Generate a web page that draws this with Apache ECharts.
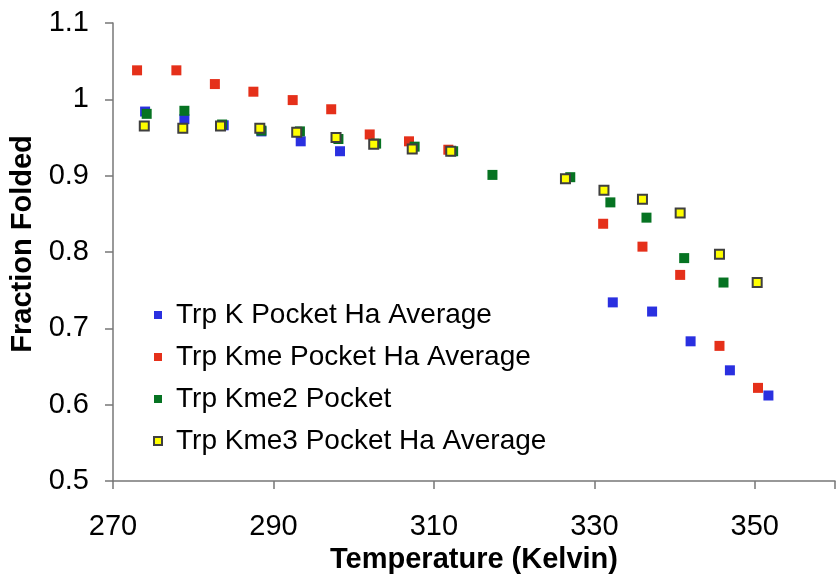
<!DOCTYPE html>
<html>

<head>
	<meta charset="utf-8" />
	<title>Fraction Folded</title>
	<script src="https://cdn.jsdelivr.net/npm/echarts@6/dist/echarts.min.js"></script>
	<style>
		body { margin: 0; background: #fff; }
		#main { width: 836px; height: 576px; }
	</style>
</head>

<body>
	<div id="main"></div>
	<script type="text/javascript">
		// temperatures (Kelvin) and fraction folded
		var kTemp = [274.0, 278.9, 283.8, 288.5, 293.4, 298.3, 332.3, 337.2, 342.0, 346.9, 351.7];
		var kFrac = [0.984, 0.974, 0.966, 0.958, 0.945, 0.932, 0.734, 0.722, 0.683, 0.645, 0.612];

		var kmeTemp = [273.0, 277.9, 282.7, 287.5, 292.4, 297.2, 302.0, 306.9, 311.8, 331.1, 336.0, 340.7, 345.6, 350.4];
		var kmeFrac = [1.038, 1.038, 1.020, 1.010, 0.999, 0.987, 0.954, 0.945, 0.934, 0.837, 0.807, 0.770, 0.677, 0.622];

		var kme2Temp = [274.2, 278.9, 283.6, 288.5, 293.3, 298.1, 302.8, 307.6, 312.4, 317.3, 327.0, 332.0, 336.5, 341.2, 346.1];
		var kme2Frac = [0.981, 0.985, 0.967, 0.959, 0.958, 0.948, 0.942, 0.938, 0.932, 0.901, 0.898, 0.865, 0.845, 0.792, 0.760];

		var kme3Temp = [273.9, 278.7, 283.4, 288.3, 292.9, 297.8, 302.5, 307.3, 312.1, 326.4, 331.2, 336.0, 340.7, 345.6, 350.3];
		var kme3Frac = [0.965, 0.962, 0.965, 0.962, 0.957, 0.950, 0.941, 0.935, 0.932, 0.896, 0.881, 0.869, 0.851, 0.797, 0.760];

		var seriesNames = ['Trp K Pocket Ha Average', 'Trp Kme Pocket Ha Average', 'Trp Kme2 Pocket', 'Trp Kme3 Pocket Ha Average'];

		function pairs(xs, ys) {
			var out = [];
			for (var i = 0; i < xs.length; i++) {
				out.push([xs[i], ys[i]]);
			}
			return out;
		}

		var font = 'Liberation Sans, Arial, Helvetica, sans-serif';
		var myChart = echarts.init(document.getElementById('main'));

		var option = {
			animation: false,
			backgroundColor: '#fff',
			grid: { left: 113, right: 1, top: 23, bottom: 95, containLabel: false, outerBoundsMode: 'none' },
			legend: {
				orient: 'vertical',
				left: 148,
				top: 296,
				itemWidth: 8,
				itemHeight: 8,
				itemGap: 14,
				icon: 'rect',
				textStyle: { fontFamily: font, fontSize: 28, color: '#000', padding: [0, 0, 0, 9] },
				data: seriesNames
			},
			xAxis: {
				type: 'value',
				min: 270,
				max: 360,
				interval: 20,
				name: 'Temperature (Kelvin)',
				nameLocation: 'middle',
				nameGap: 58,
				nameTextStyle: { fontFamily: font, fontSize: 29, fontWeight: 'bold', color: '#000' },
				splitLine: { show: false },
				axisLine: { lineStyle: { color: '#777', width: 1.5 } },
				axisTick: { length: 8, lineStyle: { color: '#777', width: 1.5 } },
				axisLabel: {
					fontFamily: font, fontSize: 29, color: '#000', margin: 31,
					formatter: function (v) { return v === 360 ? '' : v; }
				}
			},
			yAxis: {
				type: 'value',
				min: 0.5,
				max: 1.1,
				interval: 0.1,
				name: 'Fraction Folded',
				nameLocation: 'middle',
				nameGap: 76,
				nameTextStyle: { fontFamily: font, fontSize: 29, fontWeight: 'bold', color: '#000', padding: [0, 0, 0, 16] },
				splitLine: { show: false },
				axisLine: { lineStyle: { color: '#777', width: 1.5 } },
				axisTick: { length: 8, lineStyle: { color: '#777', width: 1.5 } },
				axisLabel: {
					fontFamily: font, fontSize: 29, color: '#000', margin: 24,
					formatter: function (v) { return Math.round(v * 10) / 10 + ''; }
				}
			},
			series: [{
				name: seriesNames[0],
				type: 'scatter',
				symbol: 'rect',
				symbolSize: 10,
				itemStyle: { color: '#2a30e0', opacity: 1 },
				data: pairs(kTemp, kFrac)
			}, {
				name: seriesNames[1],
				type: 'scatter',
				symbol: 'rect',
				symbolSize: 10,
				itemStyle: { color: '#e5301a', opacity: 1 },
				data: pairs(kmeTemp, kmeFrac)
			}, {
				name: seriesNames[2],
				type: 'scatter',
				symbol: 'rect',
				symbolSize: 10,
				itemStyle: { color: '#067322', opacity: 1 },
				data: pairs(kme2Temp, kme2Frac)
			}, {
				name: seriesNames[3],
				type: 'scatter',
				symbol: 'rect',
				symbolSize: 9,
				itemStyle: { color: '#ffff00', borderColor: '#3f3f3f', borderWidth: 2, opacity: 1 },
				data: pairs(kme3Temp, kme3Frac)
			}]
		};

		myChart.setOption(option);
	</script>
</body>

</html>
